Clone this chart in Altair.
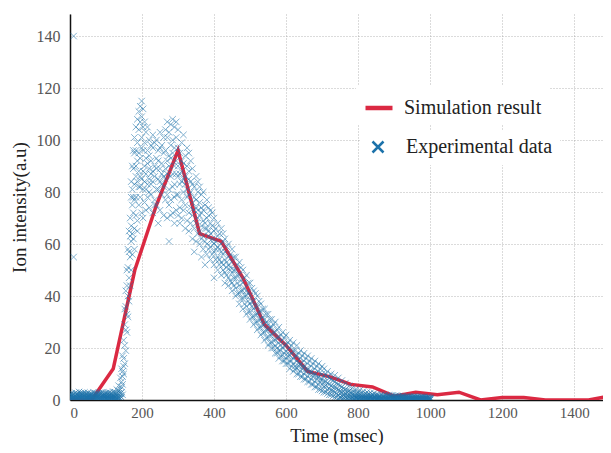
import altair as alt
import pandas as pd

# ---------------- data ----------------
sim_time = [0, 60, 120, 180, 240, 300, 360, 420, 480, 540, 600, 660, 720, 780,
            840, 900, 960, 1020, 1080, 1140, 1200, 1260, 1320, 1380, 1440, 1500]
sim_value = [0, 0, 12, 50, 75, 96, 64, 61, 47, 29, 21, 11, 9, 6,
             5, 1.5, 3, 2, 3, 0, 1, 1, 0, 0, 0, 1.5]

# experimental points: time (msec) -> intensities read at that time
exp_band = {
    0: [0.3, 1.2, 2.0, 0.7, 1.6, 0.0, 2.4], 5: [0.8, 0.1, 2.6, 1.4, 0.5, 1.9, 0.0],
    10: [1.5, 0.4, 55, 140, 1.0, 2.2, 0.0], 15: [0.2, 1.9, 0.9, 2.8, 0.5, 1.3, 0.0],
    20: [1.1, 0.0, 2.4, 0.6, 1.7, 0.3, 2.0], 25: [0.6, 1.7, 3.1, 0.2, 1.2, 0.0, 2.2],
    30: [0.0, 1.3, 2.2, 0.8, 1.8, 0.4, 2.7], 35: [0.9, 0.3, 1.8, 2.6, 1.3, 0.0, 2.1],
    40: [1.6, 0.5, 2.9, 1.0, 0.1, 2.2, 0.0], 45: [0.2, 1.0, 2.1, 1.5, 0.7, 0.0, 2.5],
    50: [1.4, 0.0, 2.7, 0.6, 1.9, 0.3, 1.1], 55: [0.7, 1.9, 0.3, 1.2, 2.4, 0.0, 1.6],
    60: [1.2, 0.1, 2.3, 0.8, 1.6, 0.0, 2.0], 65: [0.4, 1.5, 3.0, 0.9, 2.0, 0.0, 1.2],
    70: [0.0, 1.1, 2.0, 0.6, 1.6, 0.3, 2.6], 75: [0.8, 1.8, 0.2, 1.3, 2.5, 0.0, 1.0],
    80: [1.3, 0.5, 2.6, 0.9, 1.9, 0.0, 2.2], 85: [0.1, 1.0, 2.2, 0.6, 1.5, 0.0, 2.8],
    90: [1.7, 0.6, 2.9, 1.2, 0.2, 2.1, 0.0], 95: [0.3, 1.4, 0.0, 2.0, 0.9, 1.7, 2.5],
    100: [1.0, 2.1, 0.4, 1.5, 2.7, 0.0, 0.7], 105: [0.6, 1.6, 2.8, 0.1, 1.1, 0.0, 2.2],
    110: [0.0, 1.2, 2.3, 0.7, 1.7, 0.3, 2.9], 115: [0.9, 0.2, 1.9, 1.4, 2.5, 0.0, 0.6],
    120: [1.5, 0.7, 3.2, 0.3, 2.1, 0.0, 1.1], 125: [0.2, 1.1, 2.4, 0.8, 1.6, 0.0, 3.0],
    130: [0.8, 1.9, 4.0, 0.4, 1.3, 0.0, 2.6], 135: [0.4, 2.6, 5.5, 1.2, 0.9, 0.0, 3.5],
}
exp_rise = {
    140: [1.5, 4.0, 8.5, 2.5, 0.5], 143: [3, 7, 12, 5, 1], 146: [6, 11, 17, 9, 2],
    149: [10, 16, 23, 13], 152: [14, 21, 29, 35], 155: [19, 27, 36, 42],
    158: [26, 33, 44, 50], 161: [32, 40, 51, 58], 164: [38, 47, 57, 65],
    167: [44, 55, 63, 70], 170: [50, 61, 67, 78, 84], 173: [56, 64, 75, 81, 90],
    176: [62, 72, 78, 89, 96],
}
exp_peak = {
    179: [66, 77, 83, 95, 101, 58], 183: [71, 78, 90, 96, 105, 86],
    187: [69, 84, 92, 99, 108, 65], 191: [75, 82, 95, 104, 111, 88],
    195: [78, 86, 93, 107, 113, 82], 199: [72, 85, 97, 101, 109, 115],
    203: [70, 81, 88, 96, 105, 112], 207: [76, 84, 90, 99, 107],
    211: [73, 87, 93, 103, 81], 215: [78, 83, 91, 96, 105],
    220: [74, 80, 89, 94, 100, 85], 225: [79, 87, 92, 98, 83],
    230: [72, 84, 88, 97, 102], 235: [77, 86, 90, 99, 75],
    240: [75, 81, 89, 93, 100], 245: [81, 85, 92, 96, 68],
    250: [73, 84, 89, 97, 103], 255: [79, 83, 91, 98, 87],
    260: [71, 82, 86, 95, 101], 265: [77, 85, 89, 96, 104],
    270: [70, 79, 87, 92, 101, 107], 275: [75, 81, 90, 94, 103, 61],
    280: [71, 77, 86, 93, 98, 106], 285: [72, 82, 87, 95, 100, 108],
    290: [68, 78, 83, 90, 97, 105], 295: [73, 79, 87, 92, 101, 107],
}
exp_decay = {
    300: [71, 79, 86, 90, 97, 104], 305: [74, 83, 87, 95, 68],
    310: [70, 77, 84, 92, 99, 88], 315: [73, 80, 85, 91, 102],
    320: [66, 75, 83, 86, 94], 325: [69, 78, 81, 90, 97],
    330: [65, 72, 79, 85, 88, 95], 335: [68, 74, 80, 84, 92],
    340: [62, 71, 76, 83, 89], 345: [66, 73, 78, 82, 57],
    350: [61, 68, 74, 77, 86], 355: [64, 70, 73, 80, 84],
    360: [60, 65, 71, 76, 82], 365: [62, 67, 72, 74, 79, 55],
    370: [58, 63, 69, 73, 80], 375: [61, 66, 68, 75, 52],
    380: [56, 60, 66, 70, 77], 385: [58, 63, 65, 71, 74],
    390: [54, 59, 64, 68, 73], 395: [56, 61, 62, 67, 72],
    400: [52, 57, 60, 65, 70, 47], 405: [54, 58, 61, 66],
    410: [50, 55, 59, 63, 68], 415: [52, 54, 58, 64],
    420: [48, 53, 57, 60, 66], 425: [50, 52, 56, 61, 64],
    430: [45, 49, 54, 57, 62], 435: [48, 51, 53, 59],
    440: [44, 47, 52, 55, 60], 445: [46, 50, 51, 56],
    450: [42, 45, 49, 53, 58], 455: [44, 47, 50, 55],
    460: [40, 43, 47, 50, 55], 465: [41, 45, 48, 52],
    470: [37, 41, 44, 48, 53], 475: [39, 42, 46, 51],
    480: [35, 39, 42, 45, 50], 485: [37, 40, 43, 47],
    490: [33, 36, 40, 42, 48], 495: [34, 38, 41, 45],
    500: [31, 34, 37, 40, 45], 505: [32, 36, 38, 43],
    510: [29, 32, 35, 38, 42], 515: [30, 33, 36, 41],
    520: [27, 30, 33, 36, 40], 525: [28, 31, 34, 38],
    530: [25, 28, 31, 34, 37], 535: [26, 29, 32, 35],
    540: [23, 26, 29, 31, 35], 545: [24, 27, 30, 33],
    550: [21, 24, 27, 29, 33], 555: [22, 25, 28, 31],
    560: [20, 22, 25, 28, 31], 565: [20, 23, 26, 29],
    570: [18, 21, 23, 26, 30], 575: [18, 20, 24, 27],
    580: [16, 19, 22, 24, 28], 585: [17, 19, 21, 25],
    590: [15, 17, 20, 23, 26], 595: [15, 18, 21, 24],
    600: [14, 16, 19, 21, 25], 605: [14, 17, 18, 22],
    610: [12, 15, 17, 20, 23], 615: [13, 15, 18, 21],
    620: [11, 14, 16, 19, 22], 625: [12, 13, 17, 19],
    630: [10, 12, 15, 17, 21], 635: [10, 13, 14, 18],
    640: [9, 11, 14, 16, 19], 645: [9, 12, 13, 17],
    650: [8, 10, 13, 15, 18], 655: [8, 11, 12, 16],
    660: [7, 9, 12, 14, 17], 665: [7, 10, 11, 15],
    670: [6, 8, 11, 13, 16], 675: [6, 9, 10, 14],
    680: [5, 7, 10, 12, 15], 685: [5, 8, 9, 13],
    690: [4, 6, 9, 11, 14], 695: [4, 7, 8, 12],
    700: [3.5, 6, 8, 10, 13],
}
exp_tail = {
    705: [3, 5, 7, 9, 12], 710: [3, 5.5, 7, 10], 715: [2.5, 4, 6.5, 9, 11],
    720: [2, 4.5, 6, 8.5], 725: [2, 3.5, 5.5, 8, 10], 730: [1.5, 3.5, 5, 7.5],
    735: [1, 3, 5, 7, 9.5], 740: [1, 2.5, 4.5, 6.5], 745: [0.5, 2, 4, 6, 8.5],
    750: [0.5, 2.5, 3.5, 5.5, 1.2], 755: [0.3, 1.5, 3, 5, 7.5],
    760: [0.2, 1.8, 3.2, 4.5, 1.0], 765: [0, 1.2, 2.6, 4, 6.5],
    770: [0.4, 1.5, 2.8, 3.8, 0.8], 775: [0, 1, 2.2, 3.5, 5.5],
    780: [0.3, 1.3, 2.5, 3.2, 0.7], 785: [0, 0.8, 2, 3, 4.8],
    790: [0.2, 1.1, 1.8, 2.9, 0.5, 0.0], 795: [0, 0.6, 1.5, 2.6, 4.2, 1.0],
    800: [0.3, 1.0, 2.1, 2.7, 0.4, 0.0], 805: [0, 0.5, 1.3, 2.3, 3.8, 0.9],
    810: [0.2, 0.9, 1.7, 2.5, 0.6, 0.0], 815: [0, 0.4, 1.2, 2.0, 3.4, 0.8],
    820: [0.1, 0.8, 1.6, 2.4, 0.5, 0.0], 825: [0, 0.5, 1.1, 1.9, 3.0, 0.3],
    830: [0.2, 0.8, 1.5, 2.3, 0.4, 0.0], 835: [0, 0.3, 1.0, 1.7, 2.8, 1.2],
    840: [0.1, 0.7, 1.4, 2.1, 0.5, 0.0], 845: [0, 0.4, 0.9, 1.6, 2.6, 1.1],
    850: [0.2, 0.7, 1.3, 2.0, 0.3, 0.0], 855: [0, 0.5, 1.2, 2, 0.8, 0.2],
    860: [0.2, 0.9, 1.6, 0.5, 0.0, 1.2], 865: [0, 0.5, 1.2, 2.1, 0.7, 0.3],
    870: [0.2, 0.9, 1.6, 0.4, 0.0, 1.1], 875: [0, 0.6, 1.3, 2, 0.9, 0.2],
    880: [0.2, 0.9, 1.5, 0.3, 0.0, 0.6], 885: [0, 0.5, 1.2, 1.9, 0.8, 0.2],
    890: [0.1, 0.8, 1.5, 0.4, 0.0, 1.1], 895: [0, 0.5, 1.1, 1.8, 0.7, 0.3],
    900: [0.2, 0.9, 1.4, 0.3, 0.0, 0.6], 905: [0, 0.4, 1.1, 1.7, 0.6, 0.2],
    910: [0.1, 0.8, 1.5, 0.4, 0.0, 1.0], 915: [0, 0.5, 1.0, 1.6, 0.7, 0.2],
    920: [0.2, 0.7, 1.3, 0.3, 0.0, 1.0], 925: [0, 0.4, 1.0, 1.5, 0.8, 0.2],
    930: [0.1, 0.7, 1.3, 0.4, 0.0, 0.9], 935: [0, 0.5, 0.9, 1.4, 0.6, 0.2],
    940: [0.2, 0.6, 1.2, 0.3, 0.0, 0.9], 945: [0, 0.4, 0.9, 1.3, 0.7, 0.2],
    950: [0.1, 0.6, 1.1, 0.4, 0.0, 0.8], 955: [0, 0.5, 1.0, 1.4, 0.7, 0.2],
    960: [0.2, 0.7, 1.2, 0.3, 0.0, 0.9], 965: [0, 0.4, 0.9, 1.3, 0.6, 0.2],
    970: [0.1, 0.6, 1.1, 0.4, 0.0, 0.8], 975: [0, 0.5, 0.9, 1.3, 0.7, 0.2],
    980: [0.2, 0.6, 1.1, 0.3, 0.0, 0.8], 985: [0, 0.4, 0.8, 1.2, 0.6, 0.2],
    990: [0.1, 0.6, 1.0, 0.4, 0.0, 0.7], 995: [0, 0.4, 0.8, 1.2, 0.5, 0.2],
    1000: [0.1, 0.5, 0.9, 0.3, 0.0, 0.7],
}

FONT = "Liberation Serif"
XSHAPE = "M-1,-1L1,1M-1,1L1,-1"

sim_df = pd.DataFrame({"t": sim_time, "v": sim_value})
sim_df["series"] = "Simulation result"
rows = []
for block in (exp_band, exp_rise, exp_peak, exp_decay, exp_tail):
    for t, vals in block.items():
        for v in vals:
            rows.append((t, v))
exp_df = pd.DataFrame(rows, columns=["t", "v"])
exp_df["series"] = "Experimental data"

x_enc = alt.X(
    "t:Q",
    scale=alt.Scale(domain=[0, 1480], nice=False),
    axis=alt.Axis(title="Time (msec)", values=list(range(0, 1401, 200)),
                  format="d", labelFontSize=15, labelPadding=5,
                  titleFontSize=18.5, titlePadding=6),
)
y_enc = alt.Y(
    "v:Q",
    scale=alt.Scale(domain=[0, 148.5], nice=False),
    axis=alt.Axis(title="Ion intensity(a.u)", values=list(range(0, 141, 20)),
                  format="d", labelFontSize=16, labelPadding=10,
                  titleFontSize=19, titlePadding=7),
)

line = alt.Chart(sim_df).mark_line(strokeWidth=3.5, clip=True).encode(
    x=x_enc,
    y=y_enc,
    color=alt.Color(
        "series:N",
        title=None,
        scale=alt.Scale(domain=["Simulation result"], range=["#db2942"]),
        legend=alt.Legend(orient="none", legendX=286, legendY=71, padding=7,
                          fillColor="white", symbolType="stroke",
                          symbolSize=729, symbolStrokeWidth=4.5,
                          labelOffset=9, labelFont=FONT, labelFontSize=20,
                          labelColor="#222"),
    ),
)

points = alt.Chart(exp_df).mark_point(
    shape=XSHAPE, size=42, strokeWidth=1, opacity=0.55, filled=False, clip=True
).encode(
    x=x_enc,
    y=y_enc,
    color=alt.Color(
        "series:N",
        title=None,
        scale=alt.Scale(domain=["Experimental data"], range=["#1c72aa"]),
        legend=alt.Legend(orient="none", legendX=291, legendY=116, padding=7,
                          fillColor="white", symbolType=XSHAPE,
                          symbolSize=121, symbolStrokeWidth=2.5,
                          symbolOpacity=1, labelOffset=18,
                          labelFont=FONT, labelFontSize=20,
                          labelColor="#222"),
    ),
)

chart = (
    alt.layer(line, points)
    .resolve_scale(color="independent")
    .properties(width=533, height=386,
                padding={"left": 2, "top": 6, "right": 0, "bottom": 0},
                background="white")
    .configure_view(stroke=None)
    .configure_axis(
        labelFont=FONT, titleFont=FONT, labelColor="#555", titleColor="#222",
        titleFontWeight="normal", ticks=False, domainColor="#111",
        domainWidth=1.5, gridColor="#999", gridDash=[1, 2], gridOpacity=0.7,
    )
)

chart.save("out.html", embed_options={"renderer": "svg", "actions": False})
